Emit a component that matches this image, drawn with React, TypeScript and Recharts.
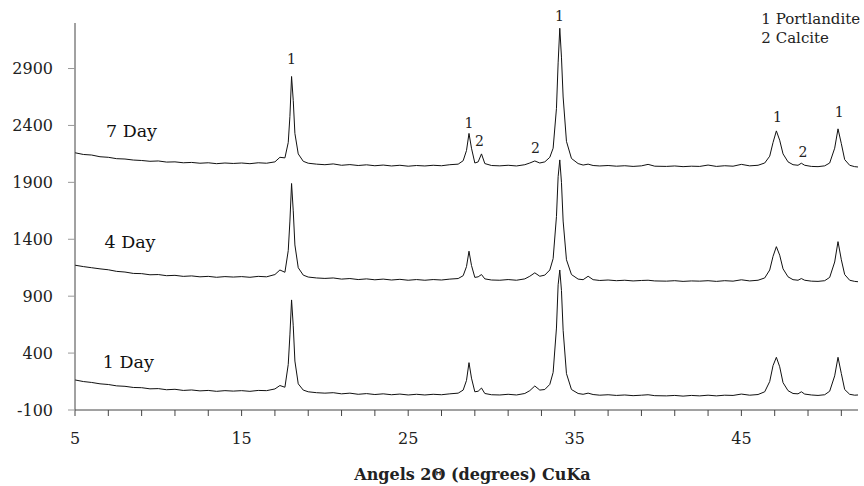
import { LineChart, Line, XAxis, YAxis, ReferenceDot } from "recharts";

// 2-theta positions shared by the three scans
const angles = [
  5, 5.5, 6, 6.5, 7, 7.5, 8, 8.5, 9, 9.5, 10, 10.5, 11, 11.5, 12, 12.5, 13, 13.5, 14, 14.5, 15, 15.5, 16, 16.5,
  17, 17.3, 17.6, 17.8, 17.9, 18, 18.1, 18.2, 18.4, 18.7, 19, 19.5,
  20, 20.5, 21, 21.5, 22, 22.5, 23, 23.5, 24, 24.5, 25, 25.5, 26, 26.5, 27, 27.5,
  28, 28.3, 28.5, 28.65, 28.8, 29, 29.2, 29.4, 29.6, 30, 30.5, 31, 31.5, 32, 32.3, 32.6, 32.9, 33.2, 33.5, 33.7,
  33.9, 34, 34.1, 34.2, 34.3, 34.5, 34.8, 35.2, 35.5, 35.8, 36.1, 36.5,
  37, 37.5, 38, 38.5, 39, 39.4, 39.8, 40.5, 41, 41.5, 42, 42.5, 43, 43.5, 44, 44.5, 45, 45.5, 46,
  46.4, 46.7, 46.9, 47.1, 47.3, 47.5, 47.8, 48.1, 48.4, 48.6, 48.8, 49.2, 49.6, 50, 50.3, 50.6, 50.8, 51, 51.2, 51.5, 51.8, 52,
];

const day7 = [
  2160, 2145, 2140, 2125, 2120, 2108, 2105, 2096, 2092, 2085, 2088, 2078, 2080, 2072, 2075, 2068, 2072, 2064, 2070, 2066, 2070, 2064, 2072, 2068,
  2080, 2120, 2115, 2250, 2480, 2830, 2620, 2330, 2150, 2085, 2068, 2060,
  2055, 2062, 2050, 2056, 2048, 2054, 2046, 2052, 2044, 2050, 2042, 2048, 2044, 2050, 2046, 2055,
  2060, 2090, 2180, 2330, 2200, 2070, 2080, 2150, 2065, 2048, 2045, 2050, 2044, 2055, 2070, 2088, 2070, 2080, 2120, 2200,
  2550, 2950, 3254, 3000, 2650, 2260, 2110, 2065, 2052, 2060, 2048, 2044,
  2048, 2042, 2046, 2040, 2045, 2058, 2042, 2040, 2044, 2038, 2042, 2040, 2052, 2040, 2046, 2042, 2058, 2045, 2050,
  2070, 2130, 2250, 2352, 2270, 2150, 2080, 2055, 2050, 2068, 2050, 2040, 2038, 2045, 2070, 2200, 2370, 2240, 2100, 2050, 2038, 2035,
];

const day4 = [
  1172, 1160, 1150, 1140, 1132, 1118, 1112, 1100, 1098, 1088, 1090, 1080, 1083, 1074, 1078, 1070, 1074, 1066, 1072, 1068, 1072, 1066, 1074, 1070,
  1090, 1130, 1110, 1300, 1560, 1890, 1650, 1350, 1150, 1085, 1068, 1060,
  1056, 1060, 1050, 1055, 1046, 1052, 1044, 1050, 1042, 1048, 1040, 1046, 1040, 1046, 1042, 1050,
  1055, 1080, 1160, 1295, 1170, 1065, 1070, 1090, 1052, 1042, 1040, 1046, 1040, 1052, 1075, 1105, 1075, 1085, 1130, 1230,
  1600, 1950, 2097, 1900, 1560, 1220, 1090, 1050, 1045, 1075, 1045, 1038,
  1042, 1036, 1040, 1034, 1038, 1040, 1034, 1032, 1036, 1030, 1034, 1032, 1036, 1030, 1036, 1032, 1044, 1034, 1040,
  1060, 1130, 1250, 1335, 1260, 1140, 1070, 1045, 1040, 1055, 1040, 1032, 1030, 1036, 1065, 1200, 1379, 1220, 1090, 1040, 1030, 1027,
];

const day1 = [
  164, 150, 142, 130, 124, 112, 108, 98, 96, 86, 88, 78, 82, 72, 76, 68, 72, 64, 70, 66, 70, 64, 72, 70,
  85, 115, 100, 300, 560, 867, 640, 330, 130, 75, 60, 52,
  48, 52, 42, 48, 38, 44, 36, 42, 34, 40, 32, 38, 32, 38, 34, 42,
  48, 75, 160, 316, 180, 60, 65, 93, 45, 34, 32, 38, 32, 45, 70, 111, 75, 80, 125, 230,
  620, 1000, 1130, 950, 600, 220, 80, 45, 38, 48, 36, 30,
  34, 28, 32, 26, 30, 34, 26, 24, 28, 22, 28, 24, 30, 24, 30, 28, 40, 30, 36,
  60, 150, 290, 363, 280, 140, 70, 45, 42, 60, 40, 32, 28, 34, 65, 200, 363, 220, 80, 38, 30, 32,
];

const yTicks = [-100, 400, 900, 1400, 1900, 2400, 2900];
const xTicks = [5, 7, 9, 11, 13, 15, 17, 19, 21, 23, 25, 27, 29, 31, 33, 35, 37, 39, 41, 43, 45, 47, 49, 51];
const xLabelled = [5, 15, 25, 35, 45];

const dayLabels = [
  { x: 8.39, y: 2354, text: "7 Day" },
  { x: 8.3, y: 1376, text: "4 Day" },
  { x: 8.2, y: 322, text: "1 Day" },
];

const peakNotes = [
  { x: 18.0, y: 2983, text: "1" },
  { x: 28.65, y: 2419, text: "1" },
  { x: 29.28, y: 2261, text: "2" },
  { x: 32.64, y: 2202, text: "2" },
  { x: 34.08, y: 3360, text: "1" },
  { x: 47.16, y: 2475, text: "1" },
  { x: 48.7, y: 2165, text: "2" },
  { x: 50.87, y: 2514, text: "1" },
];

const legendNotes = [
  { x: 46.2, y: 3342, text: "1 Portlandite" },
  { x: 46.2, y: 3173, text: "2 Calcite" },
];

const data = angles.map((a, i) => ({ angle: a, d1: day1[i], d4: day4[i], d7: day7[i] }));

const FONT = "'DejaVu Serif', serif";

export default function App() {
  return (
    <div style={{ position: "absolute", left: 0, top: 0, background: "#fff" }}>
      <LineChart width={864} height={486} data={data} margin={{ top: 23, right: 6, bottom: 0, left: 0 }}>
        <XAxis
          dataKey="angle"
          type="number"
          domain={[5, 52]}
          ticks={xTicks}
          interval={0}
          tickFormatter={(v: number) => (xLabelled.includes(v) ? String(v) : "")}
          height={76}
          tickSize={6}
          tickMargin={17}
          axisLine={{ stroke: "#444" }}
          tickLine={{ stroke: "#444" }}
          tick={{ fill: "#222", fontSize: 16, fontFamily: FONT }}
          label={{
            value: "Angels 2Θ (degrees) CuKa",
            position: "insideBottom",
            offset: 6,
            dx: 6,
            fill: "#222",
            fontSize: 16,
            fontWeight: "bold",
            fontFamily: FONT,
          }}
        />
        <YAxis
          type="number"
          domain={[-100, 3300]}
          ticks={yTicks}
          interval={0}
          width={75}
          tickSize={7}
          tickMargin={15}
          axisLine={{ stroke: "#444" }}
          tickLine={{ stroke: "#999" }}
          tick={{ fill: "#222", fontSize: 16, fontFamily: FONT }}
        />
        <Line dataKey="d1" type="linear" stroke="#111" strokeWidth={1} dot={false} isAnimationActive={false} />
        <Line dataKey="d4" type="linear" stroke="#111" strokeWidth={1} dot={false} isAnimationActive={false} />
        <Line dataKey="d7" type="linear" stroke="#111" strokeWidth={1} dot={false} isAnimationActive={false} />
        {dayLabels.map((d) => (
          <ReferenceDot
            key={d.text}
            x={d.x}
            y={d.y}
            r={0}
            fill="none"
            stroke="none"
            ifOverflow="visible"
            label={{ value: d.text, position: "center", fill: "#111", fontSize: 17.5, fontFamily: FONT }}
          />
        ))}
        {peakNotes.map((p, i) => (
          <ReferenceDot
            key={"p" + i}
            x={p.x}
            y={p.y}
            r={0}
            fill="none"
            stroke="none"
            ifOverflow="visible"
            label={{ value: p.text, position: "center", fill: "#222", fontSize: 14, fontFamily: FONT }}
          />
        ))}
        {legendNotes.map((n) => (
          <ReferenceDot
            key={n.text}
            x={n.x}
            y={n.y}
            r={0}
            fill="none"
            stroke="none"
            ifOverflow="visible"
            label={{ value: n.text, position: "right", offset: 0, fill: "#222", fontSize: 15, fontFamily: FONT }}
          />
        ))}
      </LineChart>
    </div>
  );
}
